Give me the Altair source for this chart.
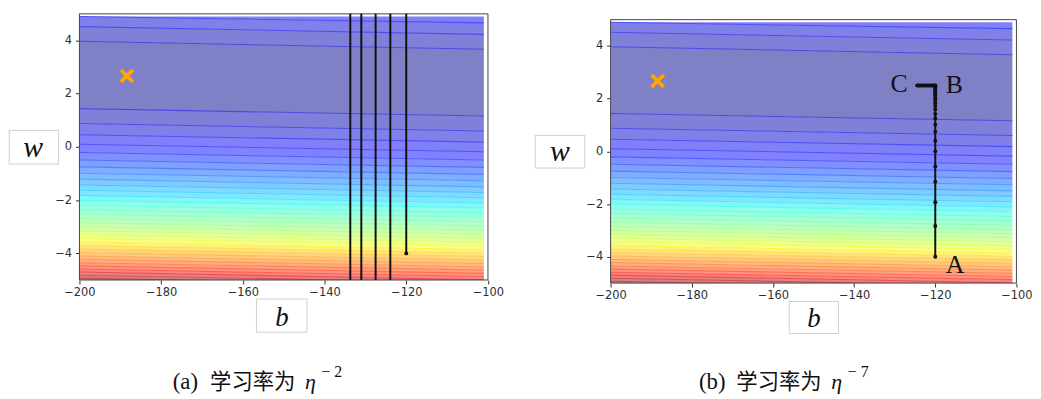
import altair as alt
import pandas as pd

# ---------------- values ----------------
# loss value of each contour level (filled contour, 35 bands)
levels = [150000, 300000, 450000, 600000, 750000, 900000, 1050000, 1200000, 1350000,
          1500000, 1650000, 1800000, 1950000, 2100000, 2250000, 2400000, 2550000,
          2700000, 2850000, 3000000, 3150000, 3300000, 3450000, 3600000, 3750000,
          3900000, 4050000, 4200000, 4350000, 4500000, 4650000, 4800000, 4950000,
          5100000, 5250000]
# w where each contour line meets the left (b=-200) and right (b=-101) grid edge, lower branch
lower_left = [1.44, 0.88, 0.46, 0.10, -0.21, -0.49, -0.75, -0.99, -1.21, -1.43, -1.63,
              -1.82, -2.01, -2.19, -2.36, -2.53, -2.69, -2.85, -3.00, -3.15, -3.29, -3.43,
              -3.57, -3.71, -3.84, -3.97, -4.10, -4.22, -4.35, -4.47, -4.59, -4.70, -4.82,
              -4.93, -5.04]
lower_right = [1.16, 0.60, 0.18, -0.18, -0.49, -0.77, -1.03, -1.27, -1.50, -1.71, -1.91,
               -2.11, -2.29, -2.47, -2.64, -2.81, -2.97, -3.13, -3.28, -3.43, -3.58, -3.72,
               -3.86, -3.99, -4.12, -4.25, -4.38, -4.51, -4.63, -4.75, -4.87, -4.99, -5.10,
               -5.21, -5.33]
# upper branch (4.9 = top edge of the computed grid)
upper_left = [3.97, 4.52] + [4.9] * 33
upper_right = [3.67, 4.23, 4.66] + [4.9] * 32
grid_b = [-200, -101]
frame_b = [-200, -100]
frame_w = [-5, 5]

# optimum (orange cross)
opt_b = [-188.4]
opt_w = [2.67]

# (a) learning rate too large: w jumps far outside the window
path_a_b = [-120.0, -120.0, -123.9, -123.9, -127.5, -127.5, -131.0, -131.0, -133.7, -133.7]
path_a_w = [-4.0, 10000, 10000, -10000, -10000, 10000, 10000, -10000, -10000, 10000]

# (b) path A -> B -> C
path_b_w = [-4.0, -2.83, -1.93, -1.15, -0.57, 0.0, 0.40, 0.75, 1.02, 1.25, 1.42, 1.59,
            1.72, 1.83, 1.93, 2.02, 2.10, 2.17, 2.23, 2.29, 2.34, 2.38, 2.42, 2.45, 2.47,
            2.49, 2.50,
            2.50, 2.50, 2.50, 2.50, 2.50, 2.50, 2.50, 2.50, 2.50, 2.50, 2.50, 2.50]
path_b_b = [-120.0] * 27 + [-120.3, -120.6, -121.0, -121.4, -121.8, -122.2, -122.6,
                            -123.0, -123.4, -123.8, -124.1, -124.45]

point_labels = ["A", "B", "C"]
point_labels_b = [-115.1, -115.3, -128.9]
point_labels_w = [-4.63, 2.21, 2.25]

x_ticks = [-200, -180, -160, -140, -120, -100]
y_ticks = [-4, -2, 0, 2, 4]

caption_tags = ["(a)", "(b)"]
caption_text = "学习率为"
caption_exps = ["− 2", "− 7"]

# jet colormap (alpha 0.5 over white) stops
jet_stops = [0, 0.11, 0.125, 0.34, 0.35, 0.375, 0.64, 0.65, 0.66, 0.89, 0.91, 1]
jet_fill = ["#8080bf", "#8080ff", "#8080ff", "#80edff", "#80f2fb", "#8afff1",
            "#f7ff84", "#fbfa80", "#fff680", "#ff8980", "#f38080", "#bf8080"]
jet_line = ["#4747d6", "#5050ff", "#5050ff", "#50e6ff", "#50edf9", "#5effeb",
            "#f3ff55", "#f9f850", "#fff250", "#ff5c50", "#ef5050", "#b05050"]

# ---------------- tables ----------------
vmax = levels[-1]
color_domain = [s * vmax for s in jet_stops]

band_rows = []


def add_strip(sid, mid, lo_l, lo_r, hi_l, hi_r):
    band_rows.append(dict(sid=sid, mid=mid, b=grid_b[0], lo=lo_l, hi=hi_l))
    band_rows.append(dict(sid=sid, mid=mid, b=grid_b[1], lo=lo_r, hi=hi_r))


add_strip(0, levels[0] / 2, lower_left[0], lower_right[0], upper_left[0], upper_right[0])
for j in range(1, len(levels)):
    mid = (levels[j - 1] + levels[j]) / 2
    add_strip(2 * j - 1, mid, lower_left[j], lower_right[j], lower_left[j - 1], lower_right[j - 1])
    if not (upper_left[j - 1] == upper_left[j] and upper_right[j - 1] == upper_right[j]):
        add_strip(2 * j, mid, upper_left[j - 1], upper_right[j - 1], upper_left[j], upper_right[j])
band_df = pd.DataFrame(band_rows)

line_rows = []
for k, lev in enumerate(levels):
    line_rows.append(dict(lid=f"lo{k}", lev=lev, b=grid_b[0], w=lower_left[k]))
    line_rows.append(dict(lid=f"lo{k}", lev=lev, b=grid_b[1], w=lower_right[k]))
    if min(upper_left[k], upper_right[k]) < 4.9:
        line_rows.append(dict(lid=f"up{k}", lev=lev, b=grid_b[0], w=upper_left[k]))
        line_rows.append(dict(lid=f"up{k}", lev=lev, b=grid_b[1], w=upper_right[k]))
line_df = pd.DataFrame(line_rows)

opt_df = pd.DataFrame({"b": opt_b, "w": opt_w})
frame_df = pd.DataFrame({"b": [frame_b[0]], "b2": [frame_b[1]], "w": [frame_w[0]], "w2": [frame_w[1]]})
lab_df = pd.DataFrame({"b": point_labels_b, "w": point_labels_w, "label": point_labels})
one = pd.DataFrame({"k": [0]})

AX_COL = "#2e2e2e"
x_axis = alt.Axis(values=x_ticks, format="d", title=None, grid=False, domain=False,
                  tickSize=4, tickColor=AX_COL, tickWidth=1, labelFont="DejaVu Sans",
                  labelFontSize=11.5, labelColor=AX_COL, labelPadding=3,
                  labelFlush=False, labelOverlap=False)
y_axis = alt.Axis(values=y_ticks, format="d", title=None, grid=False, domain=False,
                  tickSize=4, tickColor=AX_COL, tickWidth=1, labelFont="DejaVu Sans",
                  labelFontSize=11.5, labelColor=AX_COL, labelPadding=4,
                  labelFlush=False, labelOverlap=False)


def panel(pb, pw, width, height, y_range, deco, tag, exp, labels=False):
    xs = alt.Scale(domain=frame_b, nice=False, zero=False)
    ys = alt.Scale(domain=frame_w, nice=False, zero=False, range=y_range)
    X = lambda f: alt.X(f, scale=xs, axis=x_axis)
    Y = lambda f: alt.Y(f, scale=ys, axis=y_axis, stack=None)

    bands = alt.Chart(band_df).mark_area(clip=True, interpolate="linear").encode(
        x=X("b:Q"), y=Y("lo:Q"), y2="hi:Q", detail="sid:N",
        color=alt.Color("mid:Q", scale=alt.Scale(domain=color_domain, range=jet_fill,
                                                 interpolate="rgb"), legend=None))
    contours = alt.Chart(line_df).mark_line(clip=True, strokeWidth=1.1).encode(
        x=X("b:Q"), y=Y("w:Q"), detail="lid:N",
        color=alt.Color("lev:Q", scale=alt.Scale(domain=color_domain, range=jet_line,
                                                 interpolate="rgb"), legend=None))
    frame = alt.Chart(frame_df).mark_rect(fillOpacity=0, stroke="#444444", strokeWidth=1).encode(
        x=X("b:Q"), x2="b2:Q", y=Y("w:Q"), y2="w2:Q")
    opt = alt.Chart(opt_df).mark_point(shape="M-1,-1L1,1M-1,1L1,-1", filled=False,
                                       strokeWidth=3.8, size=150, color="#FFA500",
                                       opacity=1).encode(x=X("b:Q"), y=Y("w:Q"))
    pdf = pd.DataFrame({"step": list(range(len(pb))), "b": pb, "w": pw})
    pline = alt.Chart(pdf).mark_line(clip=True, color="#111111", strokeWidth=2).encode(
        x=X("b:Q"), y=Y("w:Q"), order="step:Q")
    ppts = alt.Chart(pdf).mark_circle(clip=True, color="#111111", size=16, opacity=1).encode(
        x=X("b:Q"), y=Y("w:Q"))
    layers = [bands, contours, frame, opt, pline, ppts]
    if labels:
        layers.append(alt.Chart(lab_df).mark_text(font="Liberation Serif", fontSize=26,
                                                  align="center", baseline="alphabetic",
                                                  color="#111111").encode(
            x=X("b:Q"), y=Y("w:Q"), text="label:N"))

    def box(x0, x1, y0, y1):
        return alt.Chart(one).mark_rect(fill="white", stroke="#cfcfcf", strokeWidth=1).encode(
            x=alt.value(x0), x2=alt.value(x1), y=alt.value(y0), y2=alt.value(y1))

    def txt(t, x, y, size, font, style="normal", align="center"):
        return alt.Chart(one).mark_text(text=t, font=font, fontSize=size, fontStyle=style,
                                        align=align, baseline="alphabetic",
                                        color="#111111").encode(
            x=alt.value(x), y=alt.value(y))

    layers += [
        box(*deco["wbox"]),
        txt("w", deco["wtxt"][0], deco["wtxt"][1], 30, "Liberation Serif", "italic"),
        box(*deco["bbox"]),
        txt("b", deco["btxt"][0], deco["btxt"][1], 27, "Liberation Serif", "italic"),
        txt(tag, deco["cap"][0], deco["cap_y"], 23, "Liberation Serif", align="left"),
        txt(caption_text, deco["cap"][1], deco["cap_y"], 21.5, "Noto Sans CJK SC", align="left"),
        txt("η", deco["cap"][2], deco["cap_y"], 22, "Liberation Serif", "italic", align="left"),
        txt(exp, deco["cap"][3], deco["cap_y"] - 12, 16, "Liberation Serif", align="left"),
    ]
    return alt.layer(*layers).resolve_scale(color="independent").properties(
        width=width, height=height)


deco1 = dict(wbox=(-70.8, -21, 117.4, 151.4), wtxt=(-46.6, 144.1),
             bbox=(178.4, 229.4, 287.4, 320.8), btxt=(204, 314.8),
             cap=(94, 131.7, 227.4, 243.7), cap_y=378.1)
deco2 = dict(wbox=(-76, -26, 122.4, 155.4), wtxt=(-51, 148.1),
             bbox=(180, 229.7, 289.8, 322.1), btxt=(205, 315.8),
             cap=(89, 126.7, 222.4, 239), cap_y=378.1)

p1 = panel(path_a_b, path_a_w, 411.7, 268.2, [268.2, 0], deco1, caption_tags[0], caption_exps[0])
p2 = panel(path_b_b, path_b_w, 409, 271.3, [271.3, 5.85], deco2, caption_tags[1], caption_exps[1],
           labels=True)

chart = alt.hconcat(p1, p2, spacing=123.3, bounds="flush").properties(
    padding={"left": 0, "top": 3.4, "right": 0, "bottom": 0}
).configure_view(strokeWidth=0)

chart.save("out.html", embed_options={"renderer": "svg", "actions": False})
